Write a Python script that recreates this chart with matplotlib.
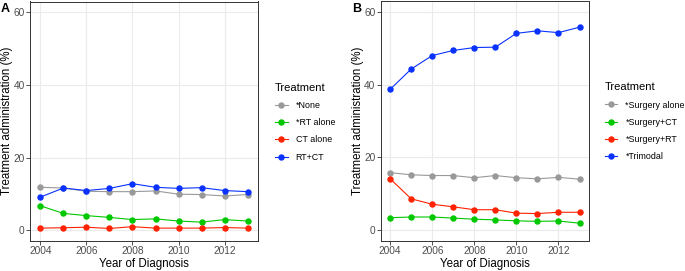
import matplotlib
matplotlib.use("Agg")
import matplotlib.pyplot as plt
from matplotlib.ticker import MultipleLocator

plt.rcParams['font.family'] = ['Liberation Sans', 'DejaVu Sans']

years = [2004, 2005, 2006, 2007, 2008, 2009, 2010, 2011, 2012, 2013]

# panel A
labels_a = ["*None", "*RT alone", "CT alone", "RT+CT"]
none_a = [11.8, 11.6, 10.7, 10.6, 10.6, 10.8, 9.9, 9.8, 9.4, 9.8]
rt_alone = [6.7, 4.6, 4.0, 3.5, 2.9, 3.1, 2.5, 2.2, 2.9, 2.5]
ct_alone = [0.55, 0.65, 0.8, 0.45, 0.95, 0.55, 0.55, 0.55, 0.7, 0.55]
rt_ct = [9.1, 11.6, 10.9, 11.5, 12.8, 11.8, 11.5, 11.7, 10.9, 10.6]

# panel B
labels_b = ["*Surgery alone", "*Surgery+CT", "*Surgery+RT", "*Trimodal"]
surg_alone = [15.8, 15.2, 15.0, 15.0, 14.4, 15.0, 14.4, 14.1, 14.5, 14.0]
surg_ct = [3.4, 3.6, 3.6, 3.3, 3.0, 2.8, 2.55, 2.4, 2.5, 1.9]
surg_rt = [14.1, 8.6, 7.1, 6.4, 5.6, 5.6, 4.65, 4.55, 4.9, 4.9]
trimodal = [38.7, 44.3, 48.0, 49.4, 50.2, 50.3, 54.1, 54.8, 54.3, 55.8]

colors = ["#999999", "#00C800", "#FF2200", "#0A32FF"]

fig = plt.figure(figsize=(6.85, 2.71), dpi=100)
axA = fig.add_axes([30/685, 1-241/271, 228/685, 239.5/271])
axB = fig.add_axes([380.7/685, 1-241/271, 208.3/685, 240/271])


def panel(ax, series, labels, tag, leg_x):
    ax.set_axisbelow(True)
    for vals, lab, c in zip(series, labels, colors):
        ax.plot(years, vals, color=c, lw=0.8, marker="o", ms=3.6, mec=c, label=lab)
    ax.set_xlim(2003.55, 2013.45)
    ax.set_ylim(-3, 63)
    ax.xaxis.set_major_locator(MultipleLocator(2))
    ax.yaxis.set_major_locator(MultipleLocator(20))
    ax.grid(which="major", color="#EBEBEB", lw=0.8)
    ax.tick_params(which="major", length=2.7, width=0.6, color="#333333",
                   labelsize=7.3, labelcolor="#4D4D4D", pad=1.2)
    for s in ax.spines.values():
        s.set_color("#333333")
        s.set_linewidth(0.7)
    ax.set_xlabel("Year of Diagnosis", fontsize=8.3, labelpad=1)
    ax.set_ylabel("Treatment administration (%)", fontsize=8.3, labelpad=0.3)
    pos = ax.get_position()
    fig.text(pos.x0 - 29/685, 0.965, tag, fontsize=9, fontweight="bold", va="center")
    leg = ax.legend(loc="upper left", bbox_to_anchor=(leg_x, 0.676), frameon=False,
                    title="Treatment", fontsize=6.4, title_fontsize=8,
                    handlelength=1.4, handletextpad=0.9, labelspacing=0.93,
                    borderaxespad=0)
    leg._legend_box.align = "left"


panel(axA, [none_a, rt_alone, ct_alone, rt_ct], labels_a, "A", 1.06)
panel(axB, [surg_alone, surg_ct, surg_rt, trimodal], labels_b, "B", 1.06)

fig.savefig("out.png", dpi=100)
